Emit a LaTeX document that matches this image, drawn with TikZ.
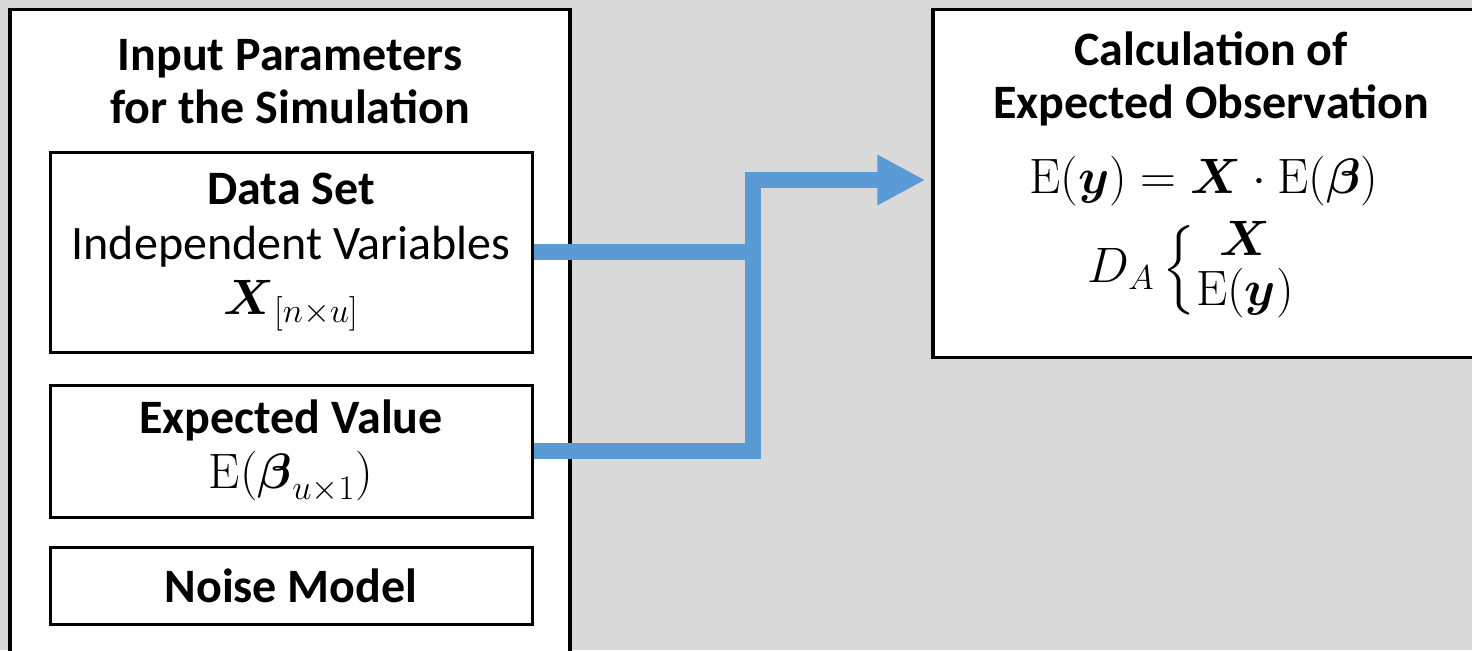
\documentclass[tikz,border=0pt]{standalone}
\usepackage{amsmath}
\usepackage[no-math]{fontspec}
\setmainfont{Carlito}
\usetikzlibrary{arrows.meta,positioning}
\definecolor{panelgray}{HTML}{D9D9D9}
\definecolor{flowblue}{HTML}{5B9BD5}

\begin{document}
\begin{tikzpicture}[x=0.5pt, y=-0.5pt, node distance=99.5pt, thick]
    % Define styles
    \tikzstyle{panel} = [rectangle, draw, fill=white, line width=1.6pt, anchor=north]
    \tikzstyle{block} = [rectangle, draw, fill=white, line width=1.5pt, minimum width=241pt, align=center, font=\fontsize{24}{27.5}\selectfont]
    \tikzstyle{caption} = [align=center, font=\fontsize{24}{26.5}\selectfont\bfseries]
    \tikzstyle{formula} = [align=center, inner sep=0pt, font=\fontsize{25}{28}\selectfont]
    \tikzstyle{line} = [draw, flowblue, line width=8pt]
    \tikzstyle{arrow} = [line, -{Triangle[length=24pt, width=23.5pt]}, shorten >=3pt]

    % Canvas
    \clip (0,0) rectangle (1472,650);
    \fill [panelgray] (0,0) rectangle (1472,650);

    % Place nodes - outer panels
    \node [panel, minimum width=280pt, minimum height=331pt] (params) at (290,8) {};
    \node [panel, minimum width=278pt, minimum height=174pt] (calc) at (1211,8) {};
    \node [caption] (paramstitle) at (290,82) {Input Parameters\\for the Simulation};
    \node [caption] (calctitle) at (1211,79) {Calculation of\\Expected Observation};

    % Place nodes - input blocks
    \node [block, minimum height=100pt] (dataset) at (291,252) {\textbf{Data Set}\\Independent Variables\\$\boldsymbol{X}_{[n\times u]}$};
    \node [block, minimum height=66pt, below of=dataset] (expval) {\textbf{Expected Value}\\$\mathrm{E}(\boldsymbol{\beta}_{u\times 1})$};
    \node [block, minimum height=38.5pt, below of=expval, node distance=67.25pt] (noise) {\textbf{Noise Model}};

    % Place nodes - calculation
    \node [formula] (expobs) at (1204,181) {$\mathrm{E}(\boldsymbol{y}) = \boldsymbol{X}\cdot\mathrm{E}(\boldsymbol{\beta})$};
    \node [formula] (design) at (1192,270) {$D_A\left\{\renewcommand{\arraystretch}{0.8}\begin{array}{@{}c@{}}\boldsymbol{X}\\ \mathrm{E}(\boldsymbol{y})\end{array}\right.$};

    % Draw connectors
    \coordinate (bend) at (753,180);
    \path [line] (dataset.east) -- (dataset.east -| bend);
    \path [arrow] (expval.east) -| (bend) -- (bend -| calc.west);

\end{tikzpicture}
\end{document}
